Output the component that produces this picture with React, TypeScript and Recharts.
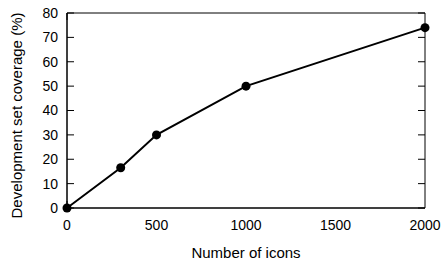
import { LineChart, Line, XAxis, YAxis, Label } from "recharts";

const iconCounts = [0, 300, 500, 1000, 2000];
const coverage = [0, 16.5, 30, 50, 74];
const xTicks = [0, 500, 1000, 1500, 2000];
const yTicks = [0, 10, 20, 30, 40, 50, 60, 70, 80];

const chartData = iconCounts.map((n, i) => ({ icons: n, coverage: coverage[i] }));

const family = "'Liberation Sans', Arial, sans-serif";
const tickFont = { fontFamily: family, fontSize: 14, fill: "#000" };
const labelFont = { fontFamily: family, fontSize: 15, fill: "#000" };
const noLabel = () => "";

export default function App() {
  return (
    <div style={{ position: "absolute", left: 0, top: 0, background: "#fff" }}>
      <LineChart
        width={443}
        height={262}
        data={chartData}
        margin={{ top: 13, right: 18, bottom: 0, left: 0 }}
      >
        <XAxis
          dataKey="icons"
          type="number"
          domain={[0, 2000]}
          ticks={xTicks}
          height={54}
          tickLine={false}
          tickSize={6}
          tickMargin={6}
          stroke="#000"
          tick={tickFont}
        >
          <Label value="Number of icons" position="insideBottom" offset={4} style={labelFont} />
        </XAxis>
        <XAxis
          xAxisId="bottomTicks"
          type="number"
          domain={[0, 2000]}
          allowDataOverflow
          ticks={xTicks}
          mirror
          tickSize={7}
          tickFormatter={noLabel}
          stroke="#000"
        />
        <XAxis
          xAxisId="top"
          orientation="top"
          type="number"
          domain={[0, 2000]}
          allowDataOverflow
          ticks={xTicks}
          mirror
          tickSize={7}
          tickFormatter={noLabel}
          stroke="#000"
        />
        <YAxis
          type="number"
          domain={[0, 80]}
          ticks={yTicks}
          width={67}
          tickLine={false}
          tickSize={6}
          tickMargin={3}
          stroke="#000"
          tick={tickFont}
        >
          <Label
            value="Development set coverage (%)"
            angle={-90}
            position="insideLeft"
            dx={12}
            dy={5}
            style={{ ...labelFont, textAnchor: "middle" }}
          />
        </YAxis>
        <YAxis
          yAxisId="leftTicks"
          type="number"
          domain={[0, 80]}
          allowDataOverflow
          ticks={yTicks}
          mirror
          tickSize={7}
          tickFormatter={noLabel}
          stroke="#000"
        />
        <YAxis
          yAxisId="right"
          orientation="right"
          type="number"
          domain={[0, 80]}
          allowDataOverflow
          ticks={yTicks}
          mirror
          tickSize={7}
          tickFormatter={noLabel}
          stroke="#000"
        />
        <Line
          dataKey="coverage"
          type="linear"
          stroke="#000"
          strokeWidth={2}
          dot={{ r: 4.5, fill: "#000", stroke: "#000", strokeWidth: 0 }}
          isAnimationActive={false}
        />
      </LineChart>
    </div>
  );
}
